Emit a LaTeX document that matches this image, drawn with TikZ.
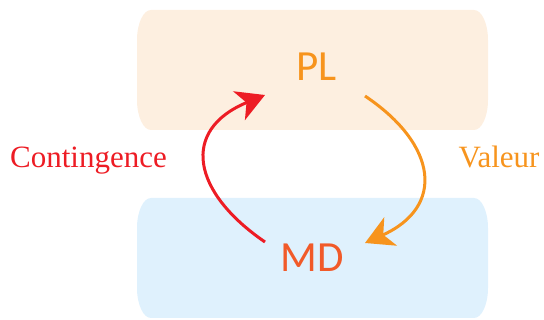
\documentclass[tikz,border=0pt]{standalone}
\usepackage{fontspec}
\setmainfont{Liberation Serif}
\newfontfamily\labelsans{Carlito}
\usetikzlibrary{arrows.meta}
\definecolor{cred}{HTML}{ED1C24}
\definecolor{corange}{HTML}{F7941D}
\definecolor{cmd}{HTML}{F15A29}
\definecolor{peach}{HTML}{FDEFE0}
\definecolor{lblue}{HTML}{DFF1FD}
\tikzset{
  big/.style={font=\labelsans\fontsize{43}{43}\selectfont, anchor=base, inner sep=0pt},
  side/.style={font=\fontsize{31}{31}\selectfont, anchor=base, inner sep=0pt},
  flow/.style={line width=3pt, -{Stealth[length=28pt,width=31pt,inset=8pt]}},
  corner/.style={x radius=14, y radius=30},
}
\begin{document}
\begin{tikzpicture}[x=1pt,y=-1pt]
\useasboundingbox (0,0) rectangle (544,320);
\fill[peach] (151,10) -- (474,10) arc[start angle=-90,end angle=0,corner]
  -- (488,100) arc[start angle=0,end angle=90,corner]
  -- (151,130) arc[start angle=90,end angle=180,corner]
  -- (137,40) arc[start angle=180,end angle=270,corner] -- cycle;
\fill[lblue] (151,198) -- (474,198) arc[start angle=-90,end angle=0,corner]
  -- (488,288) arc[start angle=0,end angle=90,corner]
  -- (151,318) arc[start angle=90,end angle=180,corner]
  -- (137,228) arc[start angle=180,end angle=270,corner] -- cycle;
\node[big, text=corange] (PL) at (316.5,81) {PL};
\node[big, text=cmd] (MD) at (312.5,272) {MD};
\node[side, text=cred] (C) at (88.5,168) {Contingence};
\node[side, text=corange] (V) at (499,168) {Valeur};
\coordinate (rs) at (265,242);
\coordinate (re) at (265,95);
\coordinate (os) at (365,96);
\coordinate (oe) at (365,243);
\draw[flow, cred] (rs) .. controls (192,192) and (180,130) .. (re);
\draw[flow, corange] (os) .. controls (438,145) and (445,207) .. (oe);
\end{tikzpicture}
\end{document}
